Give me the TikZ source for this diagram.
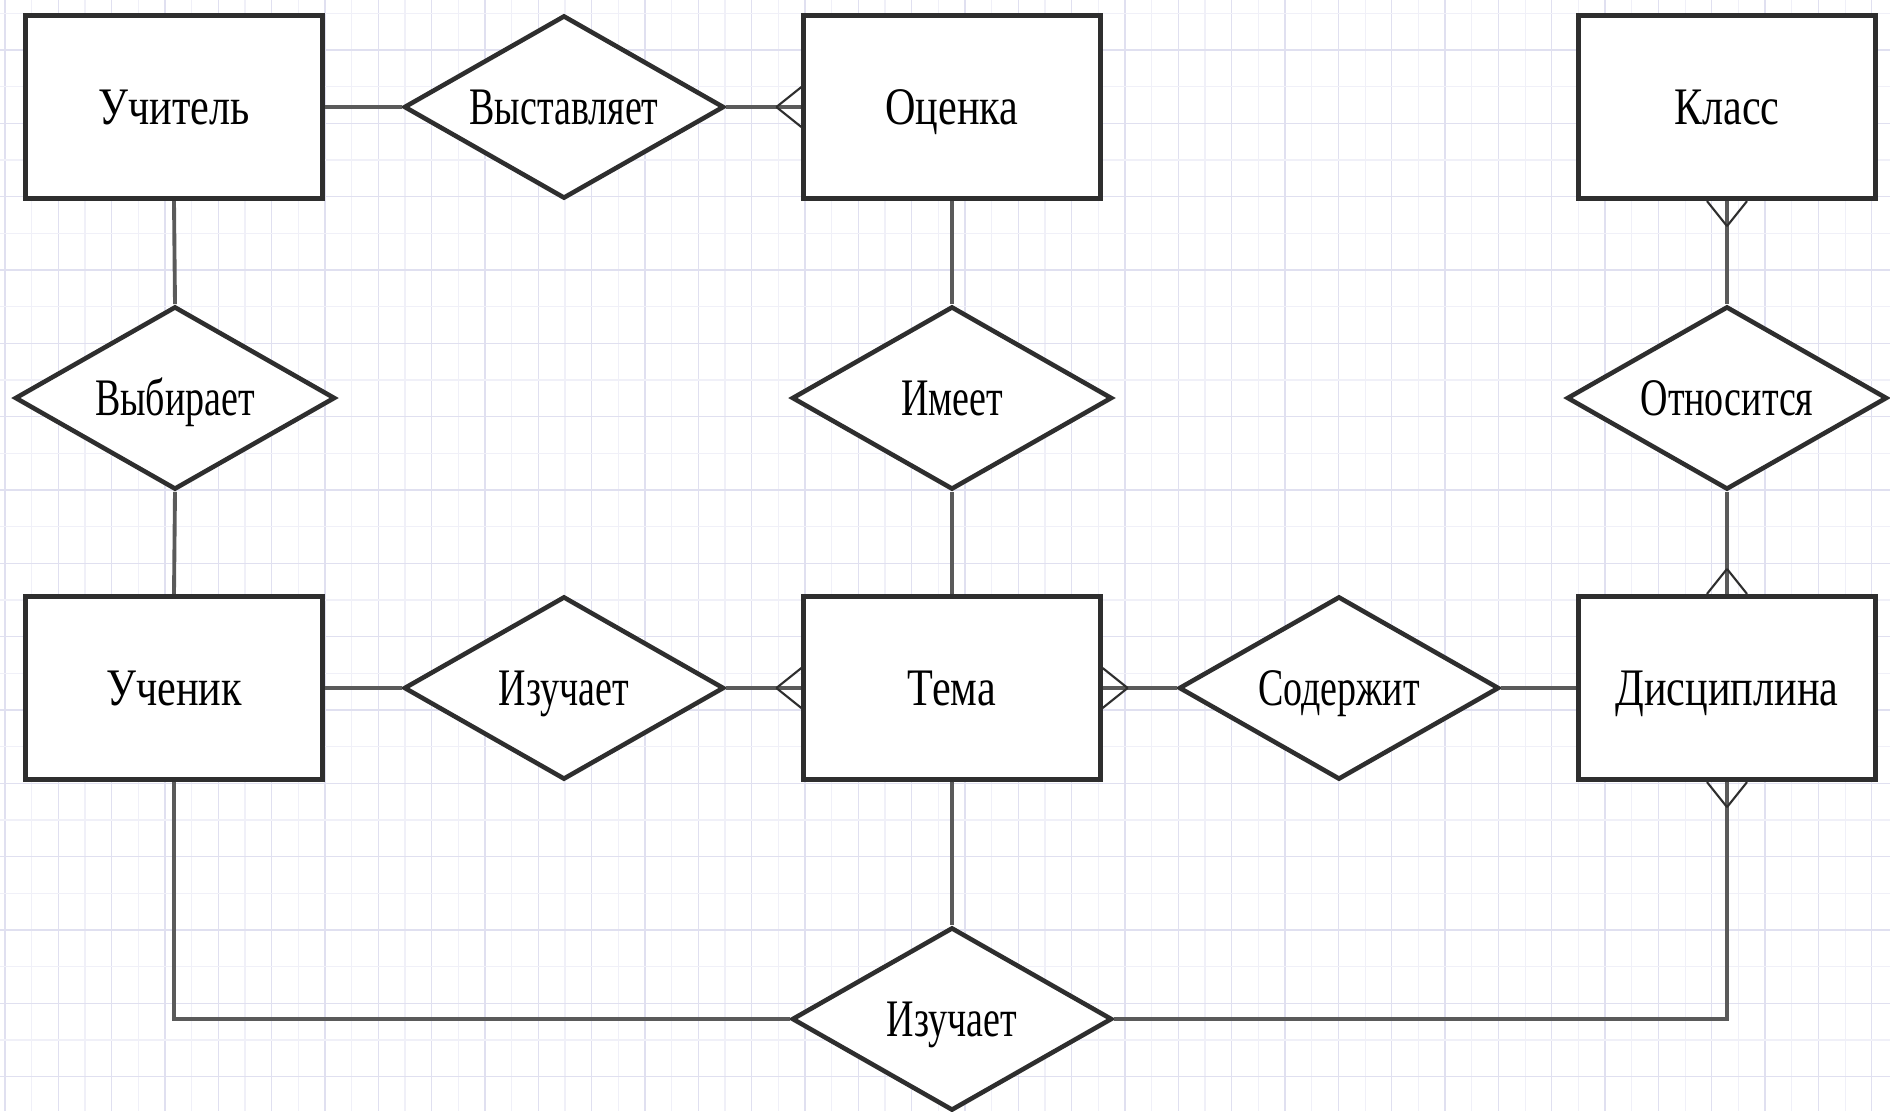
\documentclass[tikz,border=0pt]{standalone}
\usepackage{fontspec}
\setmainfont{Liberation Serif}
\usepackage{graphicx}
\usetikzlibrary{shapes.geometric,calc}
\definecolor{boxc}{HTML}{2E2E2E}
\definecolor{connc}{HTML}{5A5A5A}
\definecolor{gridmin}{HTML}{F0F0F8}
\definecolor{gridmaj}{HTML}{E0E0F0}
\newcommand\erlbl[1]{\scalebox{0.8}[1]{#1}}
\newcommand\rellbl[1]{\scalebox{0.72}[1]{#1}}
\newcommand\crowf[3]{%
  \draw[foot] ($(#1)+#2$) -- ($(#1)+#3$);}
\begin{document}
\begin{tikzpicture}[x=0.01cm,y=-0.01cm,
  entity/.style={draw=boxc,line width=1.45pt,fill=white,minimum width=2.96cm,minimum height=1.83cm,inner sep=0pt,text height=10pt,text depth=0pt,font=\fontsize{15}{18}\selectfont,text=black},
  rel/.style={diamond,aspect=1,draw=boxc,line width=1.3pt,fill=white,minimum width=3.2cm,minimum height=1.83cm,inner sep=0pt,
    label={[font=\fontsize{15}{18}\selectfont,text=black,inner sep=0pt,text height=10pt,text depth=0pt]center:\rellbl{#1}}},
  conn/.style={draw=connc,line width=1.1pt},
  foot/.style={draw=boxc,line width=0.6pt}]
\useasboundingbox (0,0) rectangle (1890,1111);
\fill[white] (0,0) rectangle (1890,1111);
% grid
\foreach \i in {0,...,70} {
  \pgfmathsetmacro\xx{5+26.667*\i}
  \pgfmathtruncatemacro\mj{mod(\i,2)}
  \ifnum\mj=0
    \draw[gridmaj,line width=0.35pt] (\xx,0) -- (\xx,1111);
  \else
    \draw[gridmin,line width=0.3pt] (\xx,0) -- (\xx,1111);
  \fi
}
\foreach \i in {0,...,30} {
  \pgfmathsetmacro\yy{13.33+36.667*\i}
  \pgfmathtruncatemacro\mj{mod(\i,2)}
  \ifnum\mj=1
    \draw[gridmaj,line width=0.35pt] (0,\yy) -- (1890,\yy);
  \else
    \draw[gridmin,line width=0.3pt] (0,\yy) -- (1890,\yy);
  \fi
}
\coordinate (bl) at (174,1019);
\coordinate (br) at (1727,1019);
% entities
\node[entity] (uchitel) at (174,107) {\erlbl{Учитель}};
\node[entity] (ocenka) at (952,107) {\erlbl{Оценка}};
\node[entity] (klass) at (1727,107) {\erlbl{Класс}};
\node[entity] (uchenik) at (174,688) {\erlbl{Ученик}};
\node[entity] (tema) at (952,688) {\erlbl{Тема}};
\node[entity] (disc) at (1727,688) {\erlbl{Дисциплина}};
% relations
\node[rel=Выставляет] (vyst) at (564,107) {};
\node[rel=Выбирает] (vybir) at (175,398) {};
\node[rel=Имеет] (imeet) at (952,398) {};
\node[rel=Относится] (otnos) at (1727,398) {};
\node[rel=Изучает] (izuch1) at (564,688) {};
\node[rel=Содержит] (soder) at (1339,688) {};
\node[rel=Изучает] (izuch2) at (952,1019) {};
% connectors
\draw[conn] (uchitel.east) -- (vyst.west);
\draw[conn] (vyst.east) -- (ocenka.west);
\draw[conn] (uchitel.south) -- (vybir.north);
\draw[conn] (vybir.south) -- (uchenik.north);
\draw[conn] (ocenka.south) -- (imeet.north);
\draw[conn] (imeet.south) -- (tema.north);
\draw[conn] (klass.south) -- (otnos.north);
\draw[conn] (otnos.south) -- (disc.north);
\draw[conn] (uchenik.east) -- (izuch1.west);
\draw[conn] (izuch1.east) -- (tema.west);
\draw[conn] (tema.east) -- (soder.west);
\draw[conn] (soder.east) -- (disc.west);
\draw[conn] (tema.south) -- (izuch2.north);
\draw[conn] (uchenik.south) -- (bl) -- (izuch2.west);
\draw[conn] (izuch2.east) -- (br) -- (disc.south);
% crow's feet
\crowf{ocenka.west}{(-25,0)}{(0,-20)}
\crowf{ocenka.west}{(-25,0)}{(0,20)}
\crowf{tema.west}{(-25,0)}{(0,-20)}
\crowf{tema.west}{(-25,0)}{(0,20)}
\crowf{tema.east}{(25,0)}{(0,-20)}
\crowf{tema.east}{(25,0)}{(0,20)}
\crowf{klass.south}{(0,25)}{(-20,0)}
\crowf{klass.south}{(0,25)}{(20,0)}
\crowf{disc.north}{(0,-25)}{(-20,0)}
\crowf{disc.north}{(0,-25)}{(20,0)}
\crowf{disc.south}{(0,25)}{(-20,0)}
\crowf{disc.south}{(0,25)}{(20,0)}
\end{tikzpicture}
\end{document}
